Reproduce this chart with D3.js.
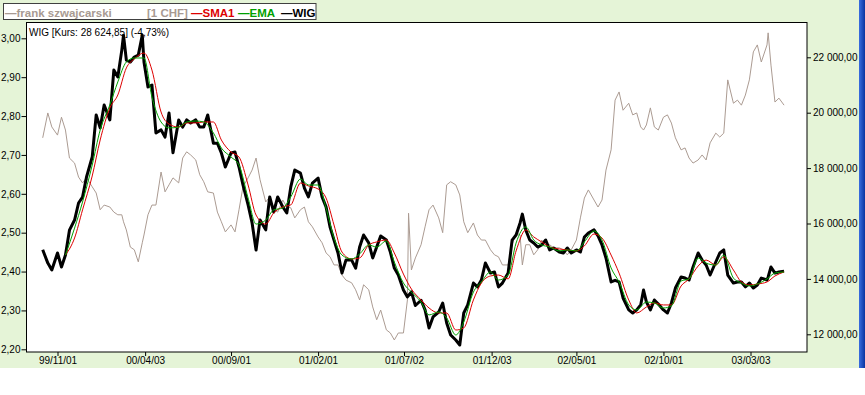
<!DOCTYPE html>
<html>
<head>
<meta charset="utf-8">
<script src="https://cdn.jsdelivr.net/npm/d3@7"></script>
<style>
  body { margin: 0; background: #fff; }
  svg { display: block; font-family: "Liberation Sans", Arial, sans-serif; }
</style>
</head>
<body>
<svg></svg>
<script>
// Notowania tygodniowe
const dates = [
  "1999-10-06","1999-10-15","1999-10-22",
  "1999-11-01","1999-11-08","1999-11-15","1999-11-22",
  "1999-12-01","1999-12-08","1999-12-15","1999-12-22",
  "2000-01-01","2000-01-08","2000-01-15","2000-01-22",
  "2000-02-01","2000-02-08","2000-02-15","2000-02-22","2000-02-25",
  "2000-03-01","2000-03-08","2000-03-15","2000-03-22","2000-03-29",
  "2000-04-01","2000-04-08","2000-04-15","2000-04-22",
  "2000-05-01","2000-05-08","2000-05-15","2000-05-22",
  "2000-06-01","2000-06-08","2000-06-15","2000-06-22",
  "2000-07-01","2000-07-08","2000-07-15","2000-07-22",
  "2000-08-01","2000-08-08","2000-08-15","2000-08-22",
  "2000-09-01","2000-09-08","2000-09-15","2000-09-22",
  "2000-10-01","2000-10-08","2000-10-15","2000-10-22",
  "2000-11-01","2000-11-08","2000-11-15","2000-11-22",
  "2000-12-01","2000-12-08","2000-12-15","2000-12-22",
  "2001-01-01","2001-01-08","2001-01-15","2001-01-22",
  "2001-02-01","2001-02-08","2001-02-15","2001-02-22",
  "2001-03-01","2001-03-08","2001-03-15","2001-03-22",
  "2001-04-01","2001-04-08","2001-04-15","2001-04-22",
  "2001-05-01","2001-05-08","2001-05-15","2001-05-22",
  "2001-06-01","2001-06-08","2001-06-15","2001-06-22",
  "2001-07-01","2001-07-08","2001-07-10","2001-07-15","2001-07-22",
  "2001-08-01","2001-08-08","2001-08-15","2001-08-22",
  "2001-09-01","2001-09-08","2001-09-15","2001-09-22",
  "2001-10-01","2001-10-08","2001-10-15","2001-10-22",
  "2001-11-01","2001-11-08","2001-11-15","2001-11-22",
  "2001-12-01","2001-12-08","2001-12-15","2001-12-22",
  "2002-01-01","2002-01-08","2002-01-15","2002-01-22","2002-01-26",
  "2002-02-01","2002-02-08","2002-02-15","2002-02-22",
  "2002-03-01","2002-03-08","2002-03-15","2002-03-22",
  "2002-04-01","2002-04-08","2002-04-15","2002-04-22",
  "2002-05-01","2002-05-08","2002-05-15","2002-05-22",
  "2002-06-01","2002-06-08","2002-06-15","2002-06-22",
  "2002-07-01","2002-07-08","2002-07-15","2002-07-22",
  "2002-08-01","2002-08-08","2002-08-15","2002-08-22","2002-08-27",
  "2002-09-01","2002-09-08","2002-09-15","2002-09-22",
  "2002-10-01","2002-10-08","2002-10-15","2002-10-22",
  "2002-11-01","2002-11-08","2002-11-15","2002-11-22",
  "2002-12-01","2002-12-08","2002-12-15","2002-12-22",
  "2003-01-01","2003-01-08","2003-01-15","2003-01-22",
  "2003-02-01","2003-02-08","2003-02-15","2003-02-22",
  "2003-03-01","2003-03-08","2003-03-15","2003-03-22",
  "2003-04-01","2003-04-03","2003-04-08","2003-04-15","2003-04-22",
  "2003-05-01"
];

// WIG (prawa oś)
const wig = [
  15050, 14570, 14320,
  14935, 14430, 14860, 15760,
  16125, 16740, 16955, 17680,
  18400, 19920, 19450, 20280,
  19740, 21540, 21290, 22260, 22800,
  21900, 21830, 22010, 22080, 22800,
  21830, 20930, 21000, 19270,
  19380, 19120, 19990, 18550,
  19740, 19480, 19740, 19630,
  19740, 19480, 19480, 19920,
  18900, 18900, 18545, 18040,
  18545, 18580, 18040, 17390,
  16670, 16020, 15040, 16130,
  15770, 16960, 16415, 16960,
  16600, 16380, 17320, 17930,
  17820, 17280, 16960, 17460,
  17640, 16960, 16600, 15875,
  15400, 14935, 14210, 14680,
  14680, 14390, 15150, 15585,
  15300, 14755, 15150, 15550,
  15405, 14970, 14390, 14140,
  13600, 13350, 13400, 13530, 13040,
  13230, 12880, 12230, 12625,
  12805, 13130, 12410, 11975,
  11795, 11615, 12770, 13060,
  13850, 13710, 13960, 14575,
  14210, 14250, 13710, 13850,
  14210, 15400, 15585, 16020, 16340,
  15770, 15405, 15295, 15150,
  15225, 15405, 15045, 15115,
  14970, 14935, 15115, 14935,
  15045, 14970, 15510, 15655,
  15770, 15550, 15225, 14755,
  13890, 13950, 13890, 13310,
  12880, 12770, 12880, 13060, 13600,
  13170, 12880, 13240, 13095,
  12880, 12770, 13130, 13670,
  14070, 14030, 13960, 14430,
  14935, 14680, 14500, 14140,
  14610, 14935, 15045, 14140,
  13850, 13890, 13890, 13710,
  13850, 13670, 13780, 14030,
  13960, 14070, 14430, 14210, 14250,
  14280
];

// frank szwajcarski [1 CHF] (lewa oś)
const chf = [
  2.744, 2.808, 2.772,
  2.751, 2.797, 2.764, 2.692,
  2.679, 2.643, 2.628, 2.641,
  2.618, 2.602, 2.559, 2.571,
  2.566, 2.553, 2.546, 2.546, 2.528,
  2.507, 2.463, 2.456, 2.425, 2.474,
  2.494, 2.546, 2.571, 2.571,
  2.656, 2.605, 2.623, 2.641,
  2.628, 2.692, 2.708, 2.700,
  2.687, 2.649, 2.631, 2.605,
  2.602, 2.553, 2.528, 2.502,
  2.520, 2.502, 2.559, 2.618,
  2.641, 2.661, 2.692, 2.636,
  2.579, 2.592, 2.559, 2.553,
  2.584, 2.566, 2.564, 2.538,
  2.559, 2.566, 2.528, 2.515,
  2.489, 2.474, 2.448, 2.438,
  2.417, 2.417, 2.391, 2.378,
  2.371, 2.353, 2.327, 2.366,
  2.353, 2.309, 2.276, 2.301,
  2.250, 2.242, 2.224, 2.242,
  2.242, 2.327, 2.550, 2.404, 2.435,
  2.469, 2.515, 2.559, 2.571,
  2.538, 2.500, 2.623, 2.631,
  2.623, 2.597, 2.528, 2.500,
  2.525, 2.494, 2.481, 2.481,
  2.456, 2.443, 2.438, 2.417,
  2.417, 2.469, 2.500, 2.494, 2.417,
  2.469, 2.469, 2.443, 2.456,
  2.481, 2.469, 2.469, 2.461,
  2.461, 2.456, 2.443, 2.456,
  2.481, 2.538, 2.589, 2.610,
  2.584, 2.566, 2.584, 2.661,
  2.713, 2.841, 2.862, 2.815,
  2.833, 2.803, 2.808, 2.772, 2.764,
  2.777, 2.821, 2.772, 2.764,
  2.797, 2.803, 2.782, 2.744,
  2.713, 2.718, 2.692, 2.679,
  2.687, 2.700, 2.687, 2.731,
  2.756, 2.746, 2.756, 2.893,
  2.833, 2.841, 2.828, 2.854,
  2.893, 2.965, 2.983, 2.939,
  2.983, 3.014, 2.931, 2.836, 2.846,
  2.828
];

// Średnie (co pół miesiąca)
const maDates = [
  "1999-11-15","1999-12-01","1999-12-15",
  "2000-01-01","2000-01-15","2000-02-01","2000-02-15","2000-03-01","2000-03-15",
  "2000-04-01","2000-04-15","2000-05-01","2000-05-15","2000-06-01","2000-06-15",
  "2000-07-01","2000-07-15","2000-08-01","2000-08-15","2000-09-01","2000-09-15",
  "2000-10-01","2000-10-15","2000-11-01","2000-11-15","2000-12-01","2000-12-15",
  "2001-01-01","2001-01-15","2001-02-01","2001-02-15","2001-03-01","2001-03-15",
  "2001-04-01","2001-04-15","2001-05-01","2001-05-15","2001-06-01","2001-06-15",
  "2001-07-01","2001-07-15","2001-08-01","2001-08-15","2001-09-01","2001-09-15",
  "2001-10-01","2001-10-15","2001-11-01","2001-11-15","2001-12-01","2001-12-15",
  "2002-01-01","2002-01-15","2002-02-01","2002-02-15","2002-03-01","2002-03-15",
  "2002-04-01","2002-04-15","2002-05-01","2002-05-15","2002-06-01","2002-06-15",
  "2002-07-01","2002-07-15","2002-08-01","2002-08-15","2002-09-01","2002-09-15",
  "2002-10-01","2002-10-15","2002-11-01","2002-11-15","2002-12-01","2002-12-15",
  "2003-01-01","2003-01-15","2003-02-01","2003-02-15","2003-03-01","2003-03-15",
  "2003-04-01","2003-04-15","2003-05-01"
];

const sma1 = [
  14860, 15477, 16490,
  17715, 19015, 20170, 20640, 21615, 21940,
  22155, 21540, 20025, 19590, 19480, 19630,
  19630, 19665, 19665, 19015, 18580, 18400,
  17390, 16305, 15980, 16380, 16600, 16670,
  17460, 17355, 17245, 16920, 15945, 14970,
  14720, 14755, 15225, 15335, 15405, 14935,
  14175, 13635, 13240, 12950, 12770, 12770,
  12155, 12230, 13240, 13850, 14105, 14140,
  14000, 15010, 15765, 15515, 15335, 15155,
  15080, 15045, 15010, 15190, 15620, 15475,
  14860, 14210, 13240, 12770, 12985, 13130,
  13060, 13060, 13745, 14000, 14465, 14680,
  14500, 14790, 14320, 13890, 13780, 13815,
  13890, 14105, 14250
];

const ema = [
  14860, 15835, 16775,
  18110, 19375, 20280, 21110, 21830, 21975,
  21975, 20565, 19665, 19450, 19480, 19665,
  19700, 19665, 19270, 18725, 18400, 18110,
  16920, 15980, 16125, 16490, 16560, 16960,
  17605, 17390, 17390, 16560, 15475, 14860,
  14720, 14900, 15225, 15150, 15370, 14610,
  13850, 13525, 13165, 12700, 12805, 12590,
  11975, 12445, 13525, 13890, 14250, 13960,
  14140, 15295, 15875, 15405, 15225, 15155,
  15010, 15045, 15010, 15335, 15730, 15405,
  14395, 13890, 13060, 12880, 13165, 13130,
  12950, 13025, 13925, 14000, 14755, 14570,
  14500, 14860, 14030, 13850, 13745, 13815,
  14000, 14210, 14250
];

const xTickDates = ["1999-11-01","2000-04-03","2000-09-01","2001-02-01","2001-07-02",
                    "2001-12-03","2002-05-01","2002-10-01","2003-03-03"];
const leftTicks = [2.2, 2.3, 2.4, 2.5, 2.6, 2.7, 2.8, 2.9, 3.0];
const rightTicks = [12000, 14000, 16000, 18000, 20000, 22000];

const width = 865;
const height = 395;
const parse = d3.timeParse("%Y-%m-%d");

const svg = d3.select("svg").attr("width", width).attr("height", height);

// Tło okna
svg.append("rect").attr("x", 0).attr("y", 0).attr("width", 859).attr("height", 368)
  .attr("fill", "#e5f4d7");
const grad = svg.append("defs").append("linearGradient").attr("id", "blue")
  .attr("x1", 0).attr("x2", 1).attr("y1", 0).attr("y2", 0);
grad.append("stop").attr("offset", 0).attr("stop-color", "#3a6ee0");
grad.append("stop").attr("offset", 1).attr("stop-color", "#0a34a0");
svg.append("rect").attr("x", 859).attr("y", 0).attr("width", 6).attr("height", 368)
  .attr("fill", "url(#blue)");

// Obszar wykresu
const plot = { left: 26.5, top: 22.5, right: 807, bottom: 352 };
svg.append("rect")
  .attr("x", plot.left).attr("y", plot.top)
  .attr("width", plot.right - plot.left).attr("height", plot.bottom - plot.top)
  .attr("fill", "#fff").attr("stroke", "#000");

svg.append("clipPath").attr("id", "clip").append("rect")
  .attr("x", plot.left + 0.5).attr("y", plot.top + 0.5)
  .attr("width", plot.right - plot.left - 1).attr("height", plot.bottom - plot.top - 1);

// Skale
const x = d3.scaleTime()
  .domain([parse("1999-11-01"), parse("2003-03-03")])
  .range([57.5, 750.5]);
const yLeft = d3.scaleLinear().domain([2.2, 3.0]).range([349.3, 38.3]);
const yRight = d3.scaleLinear().domain([12000, 22000]).range([334.3, 57.3]);

const plLocale = d3.formatLocale({ decimal: ",", thousands: "\u00a0", grouping: [3], currency: ["", ""] });
const fmtLeft = plLocale.format(".2f");
const fmtRight = plLocale.format(",.2f");

// Osie
function styleAxis(g) {
  g.select(".domain").remove();
  g.selectAll("line").attr("stroke", "#000");
  g.selectAll("text").attr("fill", "#000").attr("font-size", 10)
    .attr("font-family", "'Liberation Sans', Arial, sans-serif");
}

svg.append("g").attr("transform", `translate(${plot.left},0)`)
  .call(d3.axisLeft(yLeft).tickValues(leftTicks).tickFormat(fmtLeft).tickSize(5).tickPadding(1))
  .call(styleAxis);

svg.append("g").attr("transform", `translate(${plot.right},0)`)
  .call(d3.axisRight(yRight).tickValues(rightTicks).tickFormat(fmtRight).tickSize(4).tickPadding(2))
  .call(styleAxis);

svg.append("g").attr("transform", `translate(0,${plot.bottom})`)
  .call(d3.axisBottom(x).tickValues(xTickDates.map(parse))
    .tickFormat(d3.timeFormat("%y/%m/%d")).tickSize(4).tickPadding(1))
  .call(styleAxis);

// Serie
const chfData = dates.map((d, i) => ({ date: parse(d), value: chf[i] }));
const wigData = dates.map((d, i) => ({ date: parse(d), value: wig[i] }));
const smaData = maDates.map((d, i) => ({ date: parse(d), value: sma1[i] }));
const emaData = maDates.map((d, i) => ({ date: parse(d), value: ema[i] }));

const lines = svg.append("g").attr("clip-path", "url(#clip)");

lines.append("path").datum(chfData)
  .attr("fill", "none").attr("stroke", "#ab9b92").attr("stroke-width", 1)
  .attr("d", d3.line().x(d => x(d.date)).y(d => yLeft(d.value)));

lines.append("path").datum(wigData)
  .attr("fill", "none").attr("stroke", "#000").attr("stroke-width", 3)
  .attr("stroke-linejoin", "round")
  .attr("d", d3.line().x(d => x(d.date)).y(d => yRight(d.value)));

lines.append("path").datum(smaData)
  .attr("fill", "none").attr("stroke", "#dd0000").attr("stroke-width", 1)
  .attr("d", d3.line().curve(d3.curveMonotoneX).x(d => x(d.date)).y(d => yRight(d.value)));

lines.append("path").datum(emaData)
  .attr("fill", "none").attr("stroke", "#00a000").attr("stroke-width", 1)
  .attr("d", d3.line().curve(d3.curveMonotoneX).x(d => x(d.date)).y(d => yRight(d.value)));

// Opis w obszarze wykresu
svg.append("text").attr("x", 29).attr("y", 35.5)
  .attr("font-size", 10).attr("fill", "#000")
  .text("WIG [Kurs: 28 624,85] (-4,73%)");

// Legenda
svg.append("rect").attr("x", 3.5).attr("y", 3.5).attr("width", 312.5).attr("height", 16)
  .attr("fill", "#fff").attr("stroke", "#404040");

const legendItems = [
  { text: "\u2014frank szwajcarski", x: 5, color: "#a89a92" },
  { text: "[1 CHF]", x: 147, color: "#a89a92" },
  { text: "\u2014SMA1", x: 191, color: "#dd0000" },
  { text: "\u2014EMA", x: 238, color: "#00a000" },
  { text: "\u2014WIG", x: 281, color: "#000" }
];
svg.append("g").selectAll("text")
  .data(legendItems)
  .join("text")
  .attr("x", d => d.x).attr("y", 16.5)
  .attr("font-size", 11.5).attr("font-weight", "bold")
  .attr("fill", d => d.color)
  .text(d => d.text);
</script>
</body>
</html>
